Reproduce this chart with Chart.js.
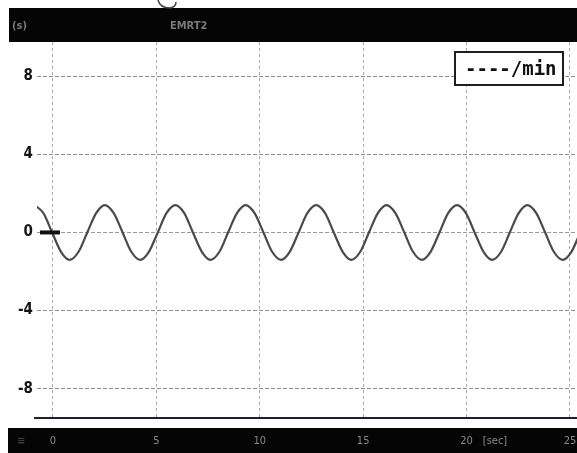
<!DOCTYPE html>
<html>
<head>
<meta charset="utf-8">
<script src="https://cdn.jsdelivr.net/npm/chart.js@4.4.1/dist/chart.umd.min.js"></script>
<style>
  html, body { margin: 0; padding: 0; background: #fff; }
  #wrap { width: 577px; height: 453px; }
</style>
</head>
<body>
<div id="wrap"><canvas id="grafico"></canvas></div>
<script>
// Dados
const tempos = [-0.89, -0.46, -0.04, 0.39, 0.81, 1.24, 1.66, 2.09, 2.51, 2.94, 3.37, 3.79, 4.22, 4.64, 5.07, 5.49,
  5.92, 6.35, 6.77, 7.20, 7.62, 8.05, 8.47, 8.90, 9.32, 9.75, 10.18, 10.60, 11.03, 11.45, 11.88, 12.30,
  12.73, 13.16, 13.58, 14.01, 14.43, 14.86, 15.28, 15.71, 16.13, 16.56, 16.99, 17.41, 17.84, 18.26, 18.69, 19.11,
  19.54, 19.97, 20.39, 20.82, 21.24, 21.67, 22.09, 22.52, 22.94, 23.37, 23.80, 24.22, 24.65, 25.07, 25.50];
const valores = [1.4, 0.99, 0, -0.99, -1.4, -0.99, 0, 0.99, 1.4, 0.99, 0, -0.99, -1.4, -0.99, 0, 0.99,
  1.4, 0.99, 0, -0.99, -1.4, -0.99, 0, 0.99, 1.4, 0.99, 0, -0.99, -1.4, -0.99, 0, 0.99,
  1.4, 0.99, 0, -0.99, -1.4, -0.99, 0, 0.99, 1.4, 0.99, 0, -0.99, -1.4, -0.99, 0, 0.99,
  1.4, 0.99, 0, -0.99, -1.4, -0.99, 0, 0.99, 1.4, 0.99, 0, -0.99, -1.4, -0.99, 0];
const ticksX = [0, 5, 10, 15, 20, 25];
const ticksY = [-8, -4, 0, 4, 8];
const legenda = '----/min';

// Faixas pretas, legenda e marcas extras
const decoracao = {
  id: 'decoracao',
  beforeDraw(chart) {
    const ctx = chart.ctx;
    ctx.save();
    ctx.fillStyle = '#fff';
    ctx.fillRect(0, 0, chart.width, chart.height);
    ctx.fillStyle = '#050505';
    ctx.fillRect(9, 8, chart.width - 9, 34);   // faixa de cima
    ctx.fillRect(8, 428, chart.width - 8, 25); // faixa de baixo
    ctx.fillStyle = '#7a7a7a';
    ctx.font = 'bold 11px "DejaVu Sans Condensed", sans-serif';
    ctx.textBaseline = 'middle';
    ctx.fillText('(s)', 12, 26);
    ctx.fillText('EMRT2', 170, 26);
    ctx.fillStyle = '#3a3a3a';
    ctx.fillText('≡', 17, 441);
    // risco no topo
    ctx.strokeStyle = '#444';
    ctx.lineWidth = 1.5;
    ctx.beginPath();
    ctx.moveTo(158, 0);
    ctx.quadraticCurveTo(160, 8, 170, 8);
    ctx.quadraticCurveTo(176, 7, 176, 2);
    ctx.stroke();
    ctx.restore();
  },
  afterDraw(chart) {
    const ctx = chart.ctx;
    const x = chart.scales.x, y = chart.scales.y;
    ctx.save();
    // linha de base um pouco mais longa
    ctx.strokeStyle = '#1e1e3c';
    ctx.lineWidth = 2;
    ctx.beginPath();
    ctx.moveTo(34, y.bottom);
    ctx.lineTo(x.left, y.bottom);
    ctx.stroke();
    // marca do zero
    ctx.fillStyle = '#111';
    ctx.fillRect(x.left + 3, y.getPixelForValue(0) - 2, 20, 4);
    // [sec]
    ctx.fillStyle = '#8a8a8a';
    ctx.font = '11px "DejaVu Sans Condensed", sans-serif';
    ctx.textAlign = 'center';
    ctx.textBaseline = 'middle';
    ctx.fillText('[sec]', 495, 441);
    // caixa da legenda
    ctx.fillStyle = '#fff';
    ctx.fillRect(455, 52, 108, 33);
    ctx.strokeStyle = '#1c1c2e';
    ctx.lineWidth = 2;
    ctx.strokeRect(455, 52, 108, 33);
    ctx.fillStyle = '#111';
    ctx.font = 'bold 19px "DejaVu Sans Mono", monospace';
    ctx.textAlign = 'left';
    ctx.fillText(legenda, 465, 70);
    ctx.restore();
  }
};

new Chart(document.getElementById('grafico'), {
  type: 'line',
  data: {
    datasets: [{
      label: legenda,
      data: tempos.map((t, i) => ({ x: t, y: valores[i] })),
      borderColor: '#4a4a4a',
      borderWidth: 2.2,
      pointRadius: 0,
      cubicInterpolationMode: 'monotone',
      fill: false
    }]
  },
  options: {
    responsive: true,
    maintainAspectRatio: false,
    animation: false,
    layout: { padding: { top: 42, left: 0, right: 0, bottom: 0 } },
    plugins: { legend: { display: false }, tooltip: { enabled: false } },
    scales: {
      x: {
        type: 'linear',
        min: -0.77,
        max: 25.34,
        afterBuildTicks: axis => { axis.ticks = ticksX.map(v => ({ value: v })); },
        afterFit: axis => { axis.height = 35; axis.paddingLeft = 0; axis.paddingRight = 0; },
        grid: { color: '#a8a8a8', lineWidth: 1, drawTicks: false },
        border: { display: true, color: '#1e1e3c', width: 2, dash: [3, 3] },
        ticks: {
          color: '#8a8a8a',
          padding: 17,
          maxRotation: 0,
          font: { family: '"DejaVu Sans Condensed", sans-serif', size: 11 }
        }
      },
      y: {
        min: -9.5,
        max: 9.75,
        afterBuildTicks: axis => { axis.ticks = ticksY.map(v => ({ value: v })); },
        afterFit: axis => { axis.width = 37; axis.paddingTop = 0; axis.paddingBottom = 0; },
        grid: { color: ctx => ctx.tick && ctx.tick.value === 0 ? '#9a9a9a' : '#8c8c8c', lineWidth: 1, drawTicks: false },
        border: { display: false, dash: [4, 2] },
        ticks: {
          color: '#151515',
          padding: 4,
          font: { family: '"DejaVu Sans Condensed", sans-serif', size: 15, weight: 'bold' }
        }
      }
    }
  },
  plugins: [decoracao]
});
</script>
</body>
</html>
